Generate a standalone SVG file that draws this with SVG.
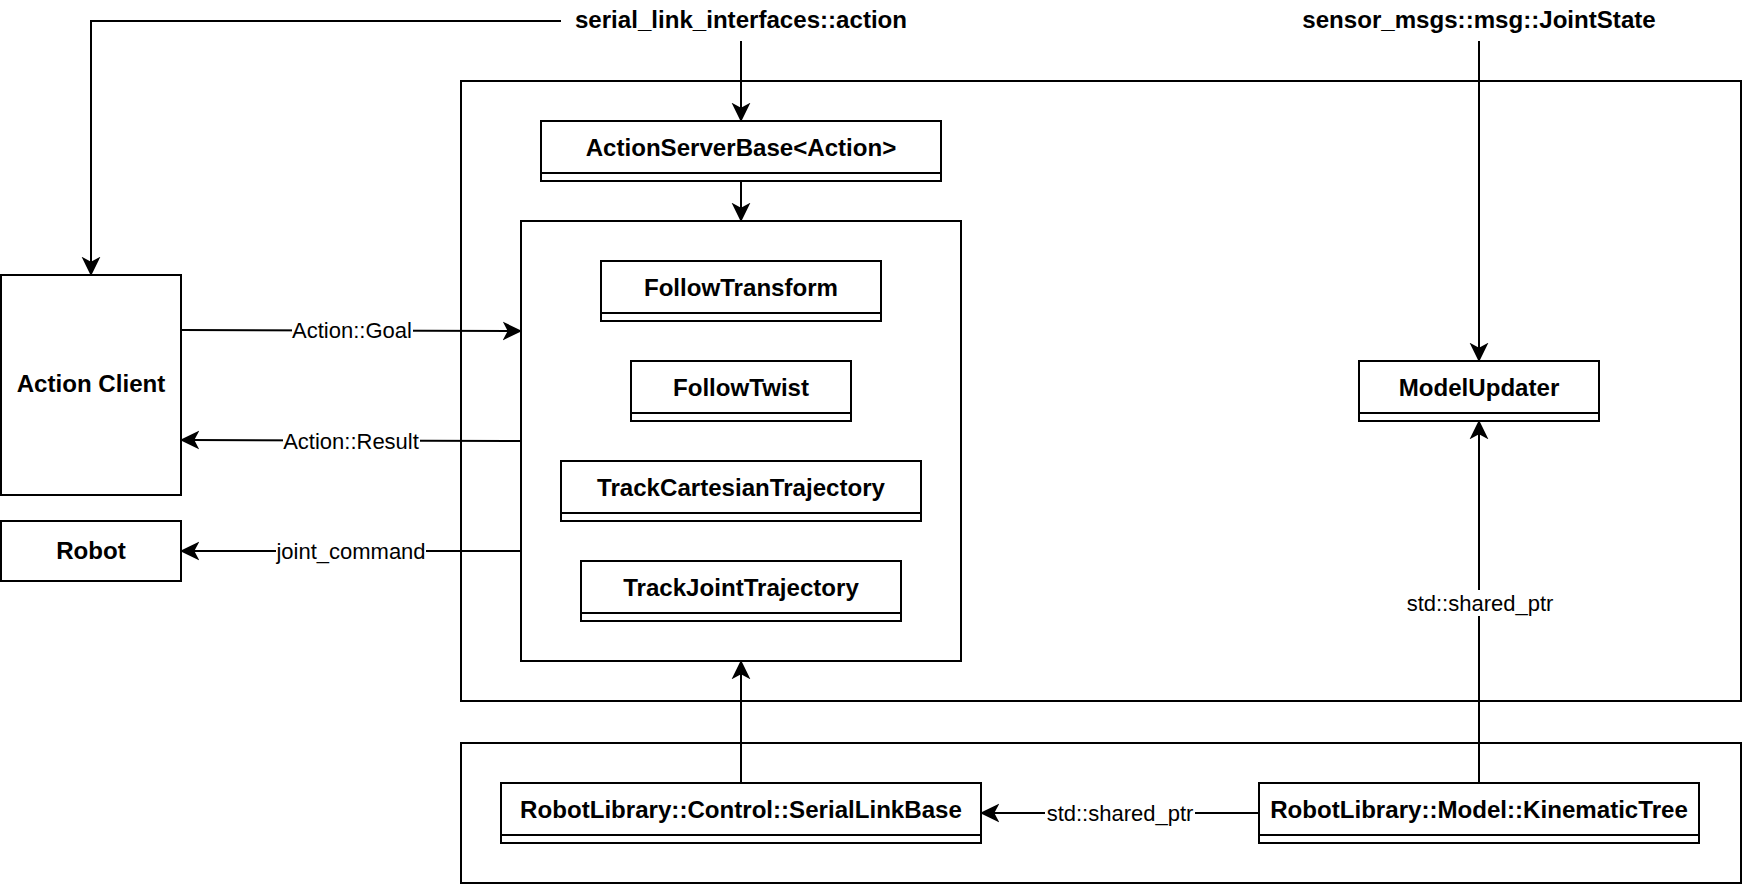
<svg xmlns="http://www.w3.org/2000/svg" width="1742" height="884" viewBox="0 0 1742 884">
<style>
.box{fill:#fff;stroke:#000;stroke-width:2}
.div{stroke:#000;stroke-width:2}
.t{font-family:"Liberation Sans",Arial,sans-serif;font-weight:bold;font-size:24.1px;text-anchor:middle;fill:#000}
.l{font-family:"Liberation Sans",Arial,sans-serif;font-size:22px;text-anchor:middle;fill:#000}
.e{fill:none;stroke:#000;stroke-width:2}
.bg{fill:#fff}
</style>
<defs>
<marker id="arr" markerUnits="userSpaceOnUse" markerWidth="20" markerHeight="20" viewBox="0 0 18 17" refX="7.5" refY="8.5" orient="auto">
<path d="M17.5,8.5 L0,0 L4.5,8.5 L0,17 Z" fill="#000"/>
</marker>
</defs>
<rect width="1742" height="884" fill="#fff"/>
<g id="container-top"><rect class="box" x="461" y="81" width="1280" height="620"/></g>
<g id="container-bottom"><rect class="box" x="461" y="743" width="1280" height="140"/></g>
<g id="label-serial-link-interfaces"><text class="t" x="741" y="28">serial_link_interfaces::action</text></g>
<g id="label-joint-state"><text class="t" x="1479" y="28">sensor_msgs::msg::JointState</text></g>
<g id="action-client"><rect class="box" x="1" y="275" width="180" height="220"/><text class="t" x="91" y="392">Action Client</text></g>
<g id="robot"><rect class="box" x="1" y="521" width="180" height="60"/><text class="t" x="91" y="559">Robot</text></g>
<g id="action-server-base"><rect class="box" x="541" y="121" width="400" height="60"/><line class="div" x1="541" y1="173" x2="941" y2="173"/><text class="t" x="741" y="155.5">ActionServerBase&lt;Action&gt;</text></g>
<g id="actions-group"><rect class="box" x="521" y="221" width="440" height="440"/></g>
<g id="follow-transform"><rect class="box" x="601" y="261" width="280" height="60"/><line class="div" x1="601" y1="313" x2="881" y2="313"/><text class="t" x="741" y="295.5">FollowTransform</text></g>
<g id="follow-twist"><rect class="box" x="631" y="361" width="220" height="60"/><line class="div" x1="631" y1="413" x2="851" y2="413"/><text class="t" x="741" y="395.5">FollowTwist</text></g>
<g id="track-cartesian-trajectory"><rect class="box" x="561" y="461" width="360" height="60"/><line class="div" x1="561" y1="513" x2="921" y2="513"/><text class="t" x="741" y="495.5">TrackCartesianTrajectory</text></g>
<g id="track-joint-trajectory"><rect class="box" x="581" y="561" width="320" height="60"/><line class="div" x1="581" y1="613" x2="901" y2="613"/><text class="t" x="741" y="595.5">TrackJointTrajectory</text></g>
<g id="model-updater"><rect class="box" x="1359" y="361" width="240" height="60"/><line class="div" x1="1359" y1="413" x2="1599" y2="413"/><text class="t" x="1479" y="395.5">ModelUpdater</text></g>
<g id="serial-link-base"><rect class="box" x="501" y="783" width="480" height="60"/><line class="div" x1="501" y1="835" x2="981" y2="835"/><text class="t" x="741" y="817.5">RobotLibrary::Control::SerialLinkBase</text></g>
<g id="kinematic-tree"><rect class="box" x="1259" y="783" width="440" height="60"/><line class="div" x1="1259" y1="835" x2="1699" y2="835"/><text class="t" x="1479" y="817.5">RobotLibrary::Model::KinematicTree</text></g>
<g id="connectors">
<path class="e" d="M561,21 H91 V265" marker-end="url(#arr)"/>
<path class="e" d="M741,41 V111" marker-end="url(#arr)"/>
<path class="e" d="M741,181 V211" marker-end="url(#arr)"/>
<path class="e" d="M181,330 L511,331" marker-end="url(#arr)"/>
<path class="e" d="M521,441 L191,440" marker-end="url(#arr)"/>
<path class="e" d="M521,551 H191" marker-end="url(#arr)"/>
<path class="e" d="M741,783 V671" marker-end="url(#arr)"/>
<path class="e" d="M1479,783 V431" marker-end="url(#arr)"/>
<path class="e" d="M1259,813 H991" marker-end="url(#arr)"/>
<path class="e" d="M1479,41 V351" marker-end="url(#arr)"/>
<rect class="bg" x="292" y="318" width="121" height="25"/>
<text class="l" x="352" y="338">Action::Goal</text>
<rect class="bg" x="283" y="428" width="137" height="25"/>
<text class="l" x="351" y="448.5">Action::Result</text>
<rect class="bg" x="276" y="539" width="150" height="25"/>
<text class="l" x="351" y="559">joint_command</text>
<rect class="bg" x="1405" y="590" width="149" height="26"/>
<text class="l" x="1480" y="611">std::shared_ptr</text>
<rect class="bg" x="1045" y="801" width="150" height="25"/>
<text class="l" x="1120" y="821">std::shared_ptr</text>
</g>
</svg>
